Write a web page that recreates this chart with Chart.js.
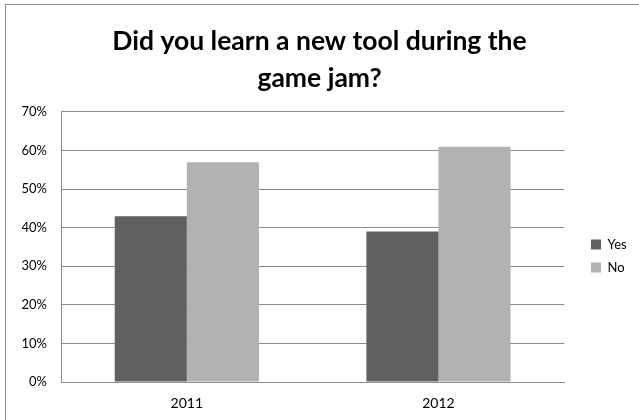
<!DOCTYPE html>
<html>
<head>
<meta charset="utf-8">
<script src="https://cdn.jsdelivr.net/npm/chart.js@4/dist/chart.umd.min.js"></script>
<style>
  html, body { margin: 0; padding: 0; background: #fff; }
  #wrap { position: relative; width: 639px; height: 420px; }
</style>
</head>
<body>
<div id="wrap"><canvas id="jamChart" width="639" height="420"></canvas></div>
<script>
// Survey answers, share of respondents
const years = ['2011', '2012'];
const yesValues = [0.43, 0.39];
const noValues = [0.57, 0.61];
const titleLines = ['Did you learn a new tool during the', 'game jam?'];

const FONT = 'Lato, "Open Sans", sans-serif';

// Excel-like outer border (only top and left edges are visible in the crop)
const chartBorder = {
    id: 'chartBorder',
    beforeDraw(chart) {
        const c = chart.ctx;
        c.save();
        c.fillStyle = '#ffffff';
        c.fillRect(0, 0, chart.width, chart.height);
        c.strokeStyle = '#8c8c8c';
        c.lineWidth = 1;
        c.strokeRect(5.5, 4.5, 800, 600);
        c.restore();
    }
};

// move legend next to the plot and keep the title centred on the page
const legendPlacer = {
    id: 'legendPlacer',
    afterLayout(chart) {
        const lg = chart.legend;
        const w = lg.right - lg.left;
        lg.left = 581;
        lg.right = 581 + w;
        lg.top += 46;
        lg.bottom += 46;
        if (chart.titleBlock) {
            chart.titleBlock.left = 0;
            chart.titleBlock.right = chart.width;
        }
    }
};

const ctx = document.getElementById('jamChart').getContext('2d');

new Chart(ctx, {
    type: 'bar',
    data: {
        labels: years,
        datasets: [
            {
                label: 'Yes',
                data: yesValues,
                backgroundColor: '#606060',
                borderWidth: 0
            },
            {
                label: 'No',
                data: noValues,
                backgroundColor: '#b2b2b2',
                borderWidth: 0
            }
        ]
    },
    options: {
        responsive: false,
        animation: false,
        layout: { padding: { left: 0, right: 19, top: 0, bottom: 0 } },
        datasets: {
            bar: { categoryPercentage: 0.573, barPercentage: 1.0 }
        },
        scales: {
            x: {
                grid: { display: false, drawTicks: false },
                border: { display: true, color: '#8c8c8c', width: 1 },
                ticks: {
                    color: '#000',
                    font: { family: FONT, size: 14 },
                    padding: 13
                },
                afterFit(scale) { scale.height = 38; }
            },
            y: {
                min: 0,
                max: 0.7,
                grid: { color: '#8c8c8c', drawTicks: false },
                border: { display: true, color: '#8c8c8c', width: 1 },
                ticks: {
                    stepSize: 0.1,
                    color: '#000',
                    padding: 14,
                    font: { family: FONT, size: 13 },
                    callback: v => Math.round(v * 100) + '%'
                },
                afterFit(scale) { scale.width = 61; }
            }
        },
        plugins: {
            title: {
                display: true,
                text: titleLines,
                color: '#000',
                font: { family: FONT, size: 26.5, weight: 'bold', lineHeight: 1.4 },
                padding: { top: 23, bottom: 14.8 }
            },
            legend: {
                position: 'right',
                labels: {
                    boxWidth: 10,
                    boxHeight: 10,
                    padding: 10,
                    color: '#000',
                    font: { family: FONT, size: 13 }
                }
            },
            tooltip: { enabled: false }
        }
    },
    plugins: [chartBorder, legendPlacer]
});
</script>
</body>
</html>
